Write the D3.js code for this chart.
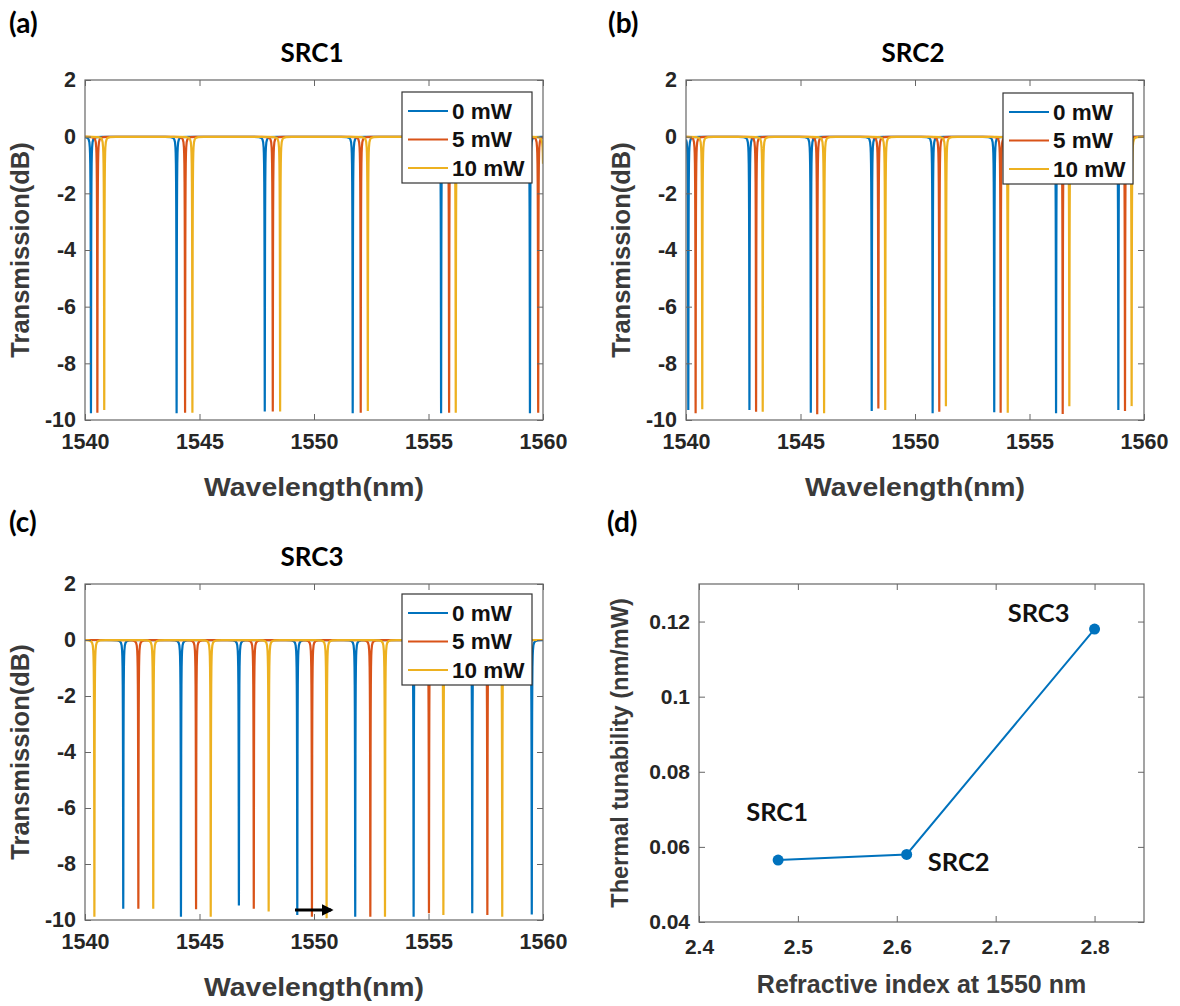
<html>
<head>
<meta charset="utf-8"/>
<title>SRC thermal tuning</title>
<script src="https://cdn.jsdelivr.net/npm/d3@7"></script>
<style>
  body { margin: 0; background: #fff; }
  text { font-family: "Liberation Sans", Arial, sans-serif; }
  .tick text { font-weight: bold; fill: #262626; }
  .tick line { stroke: #666; }
  .domain { display: none; }
  .lab { font-family: Lato, "Open Sans", sans-serif; font-weight: bold; }
</style>
</head>
<body>
<svg id="fig" width="1180" height="1006"></svg>
<script>
// ---- data ----
var powers = ["0 mW", "5 mW", "10 mW"];
var colors = ["#0072BD", "#D95319", "#EDB120"];
var wlRange = [1540, 1560];
var dbTicks = [2, 0, -2, -4, -6, -8, -10];
var wlTicks = [1540, 1545, 1550, 1555, 1560];

// SRC1 resonance centres (nm) and dip depths (dB)
var src1_0mW  = [1540.26, 1544.00, 1547.85, 1551.69, 1555.55, 1559.43];
var src1_5mW  = [1540.54, 1544.37, 1548.20, 1552.04, 1555.90, 1559.79];
var src1_10mW = [1540.84, 1544.69, 1548.52, 1552.35, 1556.19, 1560.03];
var src1_0mW_depth  = [-9.76, -9.76, -9.70, -9.76, -9.76, -9.76];
var src1_5mW_depth  = [-9.74, -9.74, -9.70, -9.74, -9.74, -9.74];
var src1_10mW_depth = [-9.65, -9.74, -9.70, -9.68, -9.74, -9.70];

// SRC2
var src2_0mW  = [1540.10, 1542.77, 1545.45, 1548.11, 1550.77, 1553.46, 1556.16, 1558.88];
var src2_5mW  = [1540.42, 1543.06, 1545.73, 1548.40, 1551.06, 1553.74, 1556.45, 1559.17];
var src2_10mW = [1540.71, 1543.35, 1546.03, 1548.70, 1551.35, 1554.05, 1556.74, 1559.46];
var src2_0mW_depth  = [-9.65, -9.65, -9.74, -9.68, -9.76, -9.73, -9.76, -9.65];
var src2_5mW_depth  = [-9.76, -9.71, -9.80, -9.59, -9.71, -9.74, -9.79, -9.68];
var src2_10mW_depth = [-9.62, -9.71, -9.76, -9.65, -9.51, -9.74, -9.51, -9.51];

// SRC3
var src3_0mW  = [1541.67, 1544.19, 1546.72, 1549.27, 1551.80, 1554.35, 1556.91, 1559.51];
var src3_5mW  = [1542.33, 1544.85, 1547.37, 1549.91, 1552.46, 1555.02, 1557.57];
var src3_10mW = [1540.41, 1542.98, 1545.49, 1548.02, 1550.55, 1553.10, 1555.65, 1558.22];
var src3_0mW_depth  = [-9.60, -9.88, -9.48, -9.82, -9.88, -9.88, -9.76, -9.80];
var src3_5mW_depth  = [-9.60, -9.62, -9.60, -9.88, -9.88, -9.76, -9.82];
var src3_10mW_depth = [-9.88, -9.60, -9.88, -9.70, -9.94, -9.88, -9.82, -9.88];

// panel (d)
var devices = ["SRC1", "SRC2", "SRC3"];
var refIndex = [2.48, 2.61, 2.80];
var tunability = [0.0565, 0.058, 0.118];
var riTicks = [2.4, 2.5, 2.6, 2.7, 2.8];
var tuneTicks = [0.04, 0.06, 0.08, 0.1, 0.12];

// ---- helpers ----
var svg = d3.select("#fig");
var gamma = 0.016; // half width of each lorentzian dip, nm
var offs = [0.5, 0.25, 0.15, 0.1, 0.07, 0.05, 0.04, 0.03, 0.022, 0.016, 0.011, 0.007, 0.004, 0.002];

function spectrum(centers, depths){
    var xs = [wlRange[0], wlRange[1]];
    centers.forEach(function(c){
        xs.push(c);
        offs.forEach(function(o){ xs.push(c - o); xs.push(c + o); });
    });
    xs = xs.filter(function(x){ return x >= wlRange[0] && x <= wlRange[1]; }).sort(d3.ascending);
    return xs.map(function(x){
        var t = 1;
        centers.forEach(function(c, i){
            var a = 1 - Math.pow(10, depths[i] / 10);
            var u = (x - c) / gamma;
            t *= 1 - a / (1 + u * u);
        });
        return [x, 10 * Math.log10(t)];
    });
}

function frame(g, x, y, w, h, xt, yt, xf, yf, fs, xpad){
    g.append("g").attr("transform", "translate(0," + h + ")")
        .call(d3.axisBottom(x).tickValues(xt).tickSize(-6).tickPadding(xpad).tickFormat(xf))
        .selectAll("text").style("font-size", fs + "px");
    g.append("g").call(d3.axisTop(x).tickValues(xt).tickSize(-6).tickFormat(""));
    g.append("g").call(d3.axisLeft(y).tickValues(yt).tickSize(-6).tickPadding(9).tickFormat(yf))
        .selectAll("text").style("font-size", fs + "px");
    g.append("g").attr("transform", "translate(" + w + ",0)")
        .call(d3.axisRight(y).tickValues(yt).tickSize(-6).tickFormat(""));
    g.append("rect").attr("width", w).attr("height", h)
        .attr("fill", "none").attr("stroke", "#666").attr("stroke-width", 1.2);
}

function axisLabels(g, w, h, xl, yl, ylx, xly, xfs, yfs, xlen){
    var t = g.append("text").attr("x", w / 2).attr("y", h + xly)
        .attr("text-anchor", "middle").attr("dominant-baseline", "central")
        .attr("font-size", xfs).attr("font-weight", "bold")
        .attr("fill", "#3a3a3a").text(xl);
    if (xlen) t.attr("textLength", xlen).attr("lengthAdjust", "spacingAndGlyphs");
    g.append("text").attr("transform", "translate(" + ylx + "," + (h / 2) + ") rotate(-90)")
        .attr("text-anchor", "middle").attr("dominant-baseline", "central")
        .attr("font-size", yfs).attr("font-weight", "bold").attr("fill", "#3a3a3a").text(yl);
}

function specPanel(id, left, top, w, h, series, title, letter, lx, ly, legX, legY){
    var g = svg.append("g").attr("transform", "translate(" + left + "," + top + ")");
    var x = d3.scaleLinear().domain(wlRange).range([0, w]);
    var y = d3.scaleLinear().domain([-10, 2]).range([h, 0]);
    g.append("clipPath").attr("id", "clip" + id)
        .append("rect").attr("width", w).attr("height", h);
    var line = d3.line().x(function(d){ return x(d[0]); }).y(function(d){ return y(d[1]); });
    var curves = g.append("g").attr("clip-path", "url(#clip" + id + ")");
    series.forEach(function(s, i){
        curves.append("path").datum(spectrum(s[0], s[1]))
            .attr("d", line).attr("fill", "none")
            .attr("stroke", colors[i]).attr("stroke-width", 2.2);
    });
    frame(g, x, y, w, h, wlTicks, dbTicks, function(d){ return d; }, function(d){ return d; }, 21.5, 14);
    axisLabels(g, w, h, "Wavelength(nm)", "Transmission(dB)", -65, 67, 25.5, 25.5, 220);

    // legend
    var leg = g.append("g").attr("transform", "translate(" + legX + "," + legY + ")");
    leg.append("rect").attr("width", 130).attr("height", 91)
        .attr("fill", "#fff").attr("stroke", "#333").attr("stroke-width", 1.2);
    powers.forEach(function(p, i){
        var yy = 19 + i * 28.5;
        leg.append("line").attr("x1", 6).attr("x2", 46).attr("y1", yy).attr("y2", yy)
            .attr("stroke", colors[i]).attr("stroke-width", 2.2);
        leg.append("text").attr("x", 50).attr("y", yy).attr("dominant-baseline", "central")
            .attr("font-size", 22.5).attr("font-weight", "bold").attr("fill", "#111").text(p);
    });

    g.append("text").attr("class", "lab").attr("x", w / 2 - 2).attr("y", -28)
        .attr("text-anchor", "middle").attr("dominant-baseline", "central")
        .attr("font-size", 26).text(title);
    svg.append("text").attr("class", "lab").attr("x", lx).attr("y", ly)
        .attr("dominant-baseline", "central").attr("font-size", 28).text(letter);
    return {g: g, x: x, y: y};
}

specPanel("a", 85, 80, 458, 340,
    [[src1_0mW, src1_0mW_depth], [src1_5mW, src1_5mW_depth], [src1_10mW, src1_10mW_depth]],
    "SRC1", "(a)", 9, 22, 317, 12);
specPanel("b", 686, 80, 458, 340,
    [[src2_0mW, src2_0mW_depth], [src2_5mW, src2_5mW_depth], [src2_10mW, src2_10mW_depth]],
    "SRC2", "(b)", 608, 22, 317, 13);
var pc = specPanel("c", 85, 584, 458, 336,
    [[src3_0mW, src3_0mW_depth], [src3_5mW, src3_5mW_depth], [src3_10mW, src3_10mW_depth]],
    "SRC3", "(c)", 9, 521, 317, 10);

// shift arrow in (c)
svg.append("defs").append("marker").attr("id", "head")
    .attr("viewBox", "0 0 10 10").attr("refX", 8).attr("refY", 5)
    .attr("markerWidth", 4).attr("markerHeight", 4).attr("orient", "auto")
    .append("path").attr("d", "M0,0L10,5L0,10z").attr("fill", "#000");
pc.g.append("line")
    .attr("x1", pc.x(1549.17)).attr("x2", pc.x(1550.75))
    .attr("y1", pc.y(-9.64)).attr("y2", pc.y(-9.64))
    .attr("stroke", "#000").attr("stroke-width", 3).attr("marker-end", "url(#head)");

// ---- panel (d) ----
(function(){
    var left = 699, top = 584, w = 445, h = 338;
    var g = svg.append("g").attr("transform", "translate(" + left + "," + top + ")");
    var x = d3.scaleLinear().domain([2.4, 2.85]).range([0, w]);
    var y = d3.scaleLinear().domain([0.04, 0.13]).range([h, 0]);
    frame(g, x, y, w, h, riTicks, tuneTicks,
        function(d){ return String(+d.toFixed(1)); },
        function(d){ return String(+d.toFixed(2)); }, 21, 17);
    axisLabels(g, w, h, "Refractive index at 1550 nm", "Thermal tunability (nm/mW)", -79, 62, 25, 23.5);

    var pts = devices.map(function(d, i){ return [refIndex[i], tunability[i]]; });
    g.append("path").datum(pts)
        .attr("d", d3.line().x(function(d){ return x(d[0]); }).y(function(d){ return y(d[1]); }))
        .attr("fill", "none").attr("stroke", "#0072BD").attr("stroke-width", 2);
    g.selectAll("circle.pt").data(pts).enter().append("circle")
        .attr("cx", function(d){ return x(d[0]); }).attr("cy", function(d){ return y(d[1]); })
        .attr("r", 5.5).attr("fill", "#0072BD");

    var off = [[-1, -49], [52, 7], [-56, -17]];
    g.selectAll("text.dev").data(devices).enter().append("text")
        .attr("class", "lab")
        .attr("x", function(d, i){ return x(refIndex[i]) + off[i][0]; })
        .attr("y", function(d, i){ return y(tunability[i]) + off[i][1]; })
        .attr("text-anchor", "middle").attr("dominant-baseline", "central")
        .attr("font-size", 25.5).attr("fill", "#111").text(function(d){ return d; });

    svg.append("text").attr("class", "lab").attr("x", 607).attr("y", 521)
        .attr("dominant-baseline", "central").attr("font-size", 28).text("(d)");
})();
</script>
</body>
</html>
